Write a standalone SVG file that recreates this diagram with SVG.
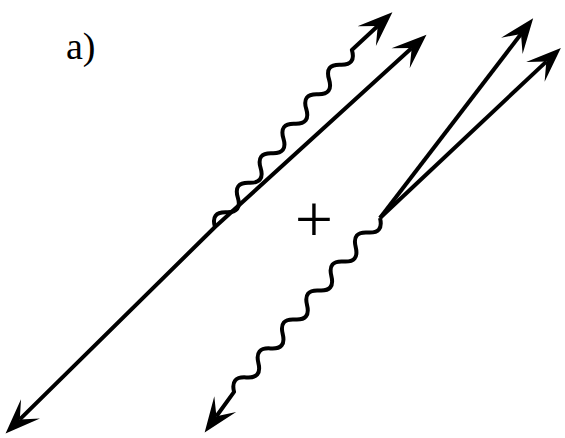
<svg xmlns="http://www.w3.org/2000/svg" width="565" height="438" viewBox="0 0 565 438">
<style>
.ln{fill:none;stroke:#000;stroke-width:4;stroke-linejoin:round;}
.lbl{fill:#000;}
</style>
<defs>
<marker id="arr" markerUnits="userSpaceOnUse" markerWidth="40" markerHeight="30" refX="0" refY="0" orient="auto-start-reverse" overflow="visible">
<path d="M20,0 L-15,-13.5 L0,0 L-15,13.5 Z" fill="#000"/>
</marker>
</defs>
<rect width="565" height="438" fill="#fff"/>
<g id="labels">
<text class="lbl" x="66" y="59" font-size="38" font-family="'Liberation Serif', 'Times New Roman', serif">a)</text>
<text class="lbl" x="314" y="242" font-size="68" text-anchor="middle" font-family="'Liberation Serif', 'Times New Roman', serif">+</text>
</g>
<g id="connectors">
<path id="fermion1" class="ln" d="M19.8,419.4 L215,227 L411.7,48.1" marker-start="url(#arr)" marker-end="url(#arr)"/>
<path id="photon1" class="ln" transform="translate(215,227) rotate(-52.3)" d="M0,0 q9.3,-13 18.65,0 t18.65,0 t18.65,0 t18.65,0 t18.65,0 t18.65,0 t18.65,0 t18.65,0 t18.65,0 t18.65,0 t18.65,0 t18.65,0 L258.6,5.8" marker-end="url(#arr)"/>
<path id="photon2" class="ln" transform="translate(380,218) rotate(130)" d="M0,0 q9.46,-13 18.92,0 t18.92,0 t18.92,0 t18.92,0 t18.92,0 t18.92,0 t18.92,0 t18.92,0 t18.92,0 t18.92,0 t18.92,0 t18.92,0 L257,-2.1" marker-end="url(#arr)"/>
<path id="fermion2a" class="ln" d="M380,218 L521,34" marker-end="url(#arr)"/>
<path id="fermion2b" class="ln" d="M380,218 L546.3,61.6" marker-end="url(#arr)"/>
</g>
</svg>
